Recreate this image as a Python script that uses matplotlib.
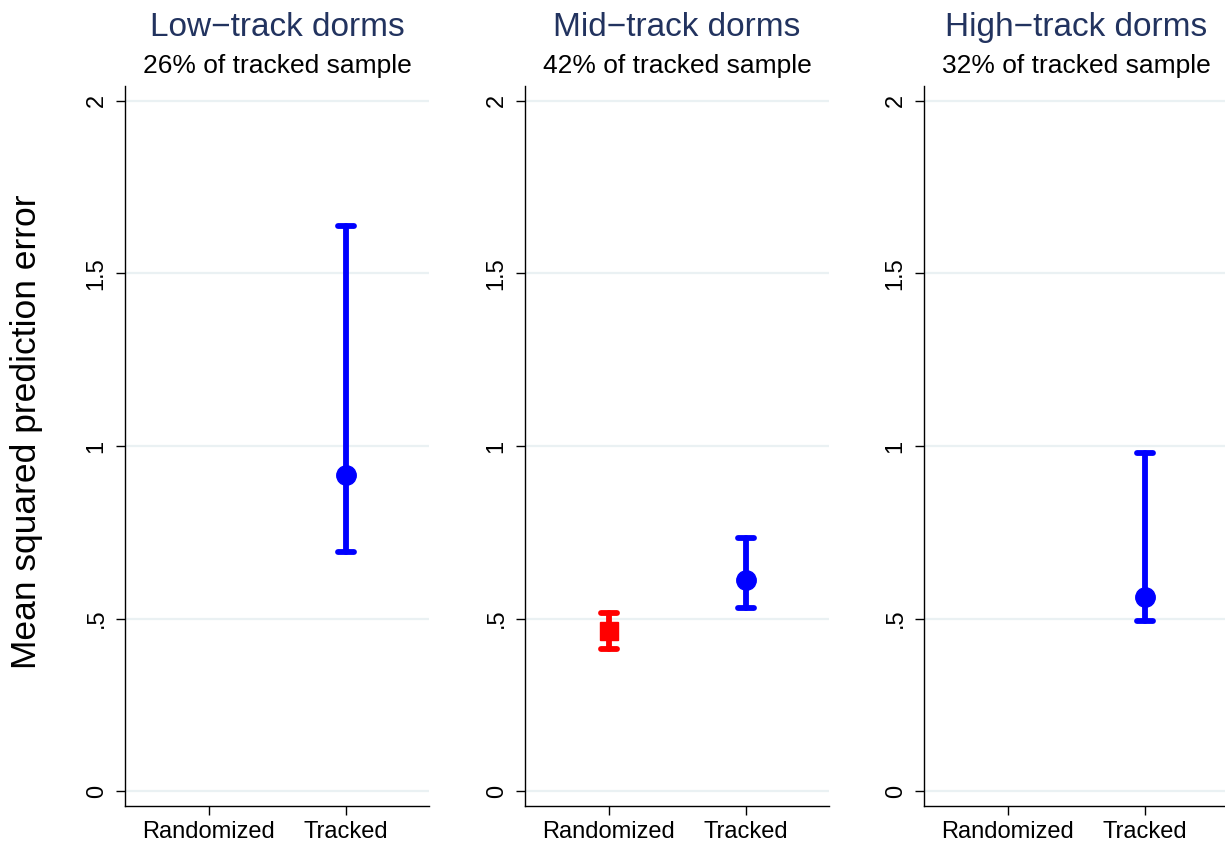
import matplotlib
matplotlib.use("Agg")
import matplotlib.pyplot as plt
import numpy as np

plt.rcParams['font.family'] = ['Liberation Sans', 'DejaVu Sans']

# ---- data ----
panel_titles = ["Low\u2212track dorms", "Mid\u2212track dorms", "High\u2212track dorms"]
panel_subtitles = ["26% of tracked sample", "42% of tracked sample", "32% of tracked sample"]
groups = ["Randomized", "Tracked"]

# Randomized estimates (None where absent)
rand_est = [None, 0.464, None]
rand_lo = [None, 0.411, None]
rand_hi = [None, 0.517, None]

# Tracked estimates
track_est = [0.916, 0.612, 0.563]
track_lo = [0.694, 0.531, 0.493]
track_hi = [1.636, 0.734, 0.979]

y_ticks = [0, 0.5, 1, 1.5, 2]
y_ticklabels = ["0", ".5", "1", "1.5", "2"]
y_label = "Mean squared prediction error"

# ---- style ----
W, H = 1225, 846
fig = plt.figure(figsize=(W / 100, H / 100), dpi=100)
fig.patch.set_facecolor("white")

title_color = "#22335f"
grid_color = "#eaf1f3"
blue = "#0000ff"
red = "#ff0000"

lefts_px = [125, 525, 924]
ax_w_px = 304
top_px, bot_px = 86, 806
cap_half = 0.055
lw = 4.2

axes = []
for i in range(3):
    ax = fig.add_axes([lefts_px[i] / W, (H - bot_px) / H, ax_w_px / W, (bot_px - top_px) / H])
    axes.append(ax)
    ax.set_xlim(0.387, 2.606)
    ax.set_ylim(-0.043, 2.043)
    ax.set_yticks(y_ticks)
    ax.set_yticklabels(y_ticklabels, rotation=90, va="center", fontsize=17)
    ax.set_xticks([1, 2])
    ax.set_xticklabels(groups, fontsize=17)
    for yt in y_ticks:
        ax.axhline(yt, color=grid_color, lw=1.6, zorder=0)
    for s in ["top", "right"]:
        ax.spines[s].set_visible(False)
    for s in ["left", "bottom"]:
        ax.spines[s].set_linewidth(1.0)
        ax.spines[s].set_color("black")
    ax.tick_params(axis="both", length=6.5, width=1.0, color="black")
    ax.tick_params(axis="y", pad=6)
    ax.tick_params(axis="x", pad=4)

    # Randomized
    if rand_est[i] is not None:
        ax.vlines(1, rand_lo[i], rand_hi[i], color=red, lw=lw, capstyle="round", zorder=3)
        ax.hlines([rand_lo[i], rand_hi[i]], 1 - cap_half, 1 + cap_half, color=red, lw=lw,
                  capstyle="round", zorder=3)
        ax.plot([1], [rand_est[i]], marker="s", ms=13, color=red, mec=red, zorder=4, ls="none")
    # Tracked
    if track_est[i] is not None:
        ax.vlines(2, track_lo[i], track_hi[i], color=blue, lw=lw, capstyle="round", zorder=3)
        ax.hlines([track_lo[i], track_hi[i]], 2 - cap_half, 2 + cap_half, color=blue, lw=lw,
                  capstyle="round", zorder=3)
        ax.plot([2], [track_est[i]], marker="o", ms=14, color=blue, mec=blue, zorder=4, ls="none")

    cx = (lefts_px[i] + ax_w_px / 2) / W
    fig.text(cx, 1 - 36 / H, panel_titles[i], ha="center", va="baseline",
             fontsize=24, color=title_color)
    fig.text(cx, 1 - 73 / H, panel_subtitles[i], ha="center", va="baseline",
             fontsize=19, color="black")

fig.text(27 / W, 1 - 432 / H, y_label, rotation=90, ha="center", va="center",
         fontsize=25.5, color="black")

fig.savefig("out.png", dpi=100, facecolor="white")
